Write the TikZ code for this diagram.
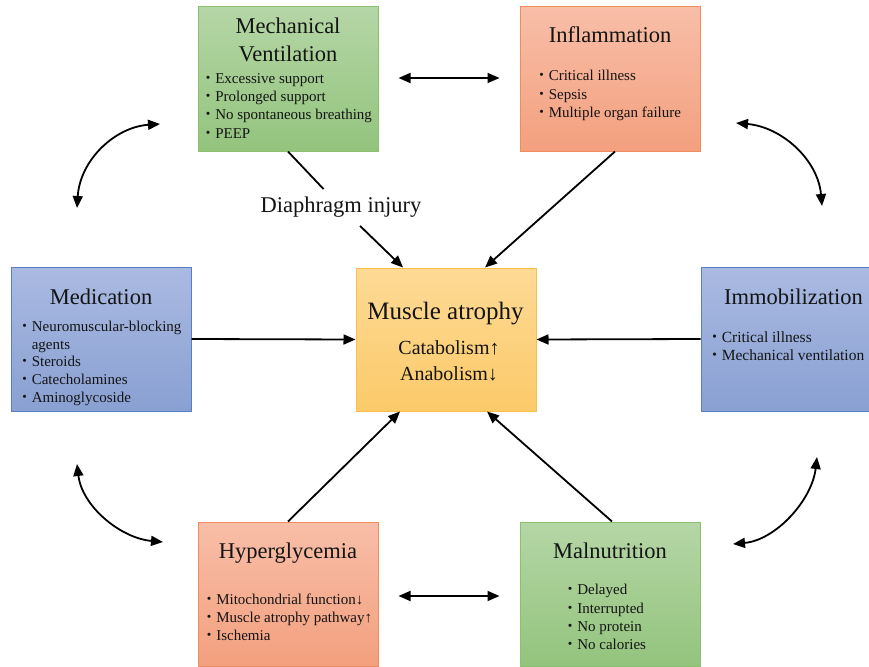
\documentclass[tikz,border=0pt]{standalone}
\usepackage{fontspec}
\setmainfont{Liberation Serif}
\newfontfamily\cjkfont{Noto Sans CJK JP}
\usetikzlibrary{arrows.meta,calc}
\definecolor{gTop}{HTML}{B5D6A6}\definecolor{gBot}{HTML}{93C47D}\definecolor{gLine}{HTML}{8CBF6E}
\definecolor{oTop}{HTML}{F8BEA8}\definecolor{oBot}{HTML}{F3A07E}\definecolor{oLine}{HTML}{EE8C5E}
\definecolor{yTop}{HTML}{FEDA96}\definecolor{yBot}{HTML}{FBCA69}\definecolor{yLine}{HTML}{F8C04A}
\definecolor{bTop}{HTML}{AABAE2}\definecolor{bBot}{HTML}{89A0D2}\definecolor{bLine}{HTML}{5A7CC2}
\newcommand\bul{\makebox[14.6pt][c]{\cjkfont ・}}
\tikzset{
  box/.style={draw, line width=1pt, minimum width=180pt, minimum height=144pt, inner sep=0pt},
  greenbox/.style={box, draw=gLine, top color=gTop, bottom color=gBot},
  orangebox/.style={box, draw=oLine, top color=oTop, bottom color=oBot},
  yellowbox/.style={box, draw=yLine, top color=yTop, bottom color=yBot, minimum height=143pt},
  bluebox/.style={box, draw=bLine, top color=bTop, bottom color=bBot},
  title/.style={font=\fontsize{22.5}{27}\selectfont, inner sep=0pt, anchor=base, text=black!92},
  item/.style={font=\fontsize{15}{18}\selectfont, inner sep=0pt, anchor=base west, text=black!92},
  conn/.style={line width=1.8pt, black},
  arr/.style={conn, -{Triangle[length=12pt,width=10pt]}},
  dbl/.style={conn, {Triangle[length=12pt,width=10pt]}-{Triangle[length=12pt,width=10pt]}}
}
\begin{document}
\begin{tikzpicture}[x=1pt,y=-1pt]
\useasboundingbox (0,0) rectangle (869,666);
\fill[white] (0,0) rectangle (869,666);
\clip (0,0) rectangle (869,666);
% boxes
\node[greenbox] (mv) at (288,79) {};
\node[orangebox] (inf) at (610,79) {};
\node[yellowbox] (ma) at (446,339.5) {};
\node[bluebox] (med) at (101,339) {};
\node[bluebox, minimum width=200pt] (imm) at (801,339) {};
\node[orangebox] (hy) at (288,594) {};
\node[greenbox] (ml) at (610,594) {};
% Mechanical ventilation
\node[title] (mvt1) at (288,34) {Mechanical};
\node[title] (mvt2) at (288,61.5) {Ventilation};
\node[item] (mv1) at (200.5,84) {\bul Excessive support};
\node[item] (mv2) at (200.5,102) {\bul Prolonged support};
\node[item] (mv3) at (200.5,120) {\bul No spontaneous breathing};
\node[item] (mv4) at (200.5,138) {\bul PEEP};
% Inflammation
\node[title] (inft) at (610,43) {Inflammation};
\node[item] (inf1) at (534,80.7) {\bul Critical illness};
\node[item] (inf2) at (534,99.3) {\bul Sepsis};
\node[item] (inf3) at (534,117.7) {\bul Multiple organ failure};
% Muscle atrophy
\node[title, font=\fontsize{25}{30}\selectfont] (mat) at (445.5,319) {Muscle atrophy};
\node[title, font=\fontsize{20}{24}\selectfont] (ma1) at (449,354) {Catabolism↑};
\node[title, font=\fontsize{20}{24}\selectfont] (ma2) at (449,380.6) {Anabolism↓};
% Medication
\node[title] (medt) at (101,304) {Medication};
\node[item] (med1) at (17,331) {\bul Neuromuscular-blocking};
\node[item] (med2) at (17,349.3) {\hspace*{14.6pt}agents};
\node[item] (med3) at (17,366.7) {\bul Steroids};
\node[item] (med4) at (17,384.3) {\bul Catecholamines};
\node[item] (med5) at (17,402.7) {\bul Aminoglycoside};
% Immobilization
\node[title, anchor=base west] (immt) at (724,304) {Immobilization};
\node[item, font=\fontsize{15.5}{18.5}\selectfont] (imm1) at (707,342) {\bul Critical illness};
\node[item, font=\fontsize{15.5}{18.5}\selectfont] (imm2) at (707,360) {\bul Mechanical ventilation};
% Hyperglycemia
\node[title] (hyt) at (288,558.7) {Hyperglycemia};
\node[item] (hy1) at (201.5,604) {\bul Mitochondrial function↓};
\node[item] (hy2) at (201.5,622.3) {\bul Muscle atrophy pathway↑};
\node[item] (hy3) at (201.5,640.3) {\bul Ischemia};
% Malnutrition
\node[title] (mlt) at (610,558.7) {Malnutrition};
\node[item] (ml1) at (562.5,594.7) {\bul Delayed};
\node[item] (ml2) at (562.5,613) {\bul Interrupted};
\node[item] (ml3) at (562.5,631.3) {\bul No protein};
\node[item] (ml4) at (562.5,649.7) {\bul No calories};
% diaphragm label
\node[font=\fontsize{22.5}{27}\selectfont, inner sep=8pt, text=black!92] (di) at (341,207.5) {Diaphragm injury};
% straight connectors
\draw[conn] (mv.south) -- (di);
\draw[arr] (di) -- ($(ma.north)+(-43,0)$);
\draw[arr] ($(inf.south)+(5,0)$) -- ($(ma.north)+(39,0)$);
\draw[arr] (med.east) -- (ma.west);
\draw[arr] (imm.west) -- (ma.east);
\draw[arr] (hy.north) -- ($(ma.south)+(-46,0)$);
\draw[arr] ($(ml.north)+(2,0)$) -- ($(ma.south)+(41,0)$);
\draw[dbl, shorten <=20pt, shorten >=20pt] ($(mv.east)+(0,-1)$) -- ($(inf.west)+(0,-1)$);
\draw[dbl, shorten <=20pt, shorten >=20pt] ($(hy.east)+(0,2)$) -- ($(ml.west)+(0,2)$);
% curved connectors
\coordinate (tla) at (77,208);
\coordinate (tlb) at (160,124);
\coordinate (tra) at (736,123);
\coordinate (trb) at (822,206);
\coordinate (bla) at (77,464);
\coordinate (blb) at (163,542);
\coordinate (bra) at (817,457);
\coordinate (brb) at (733,544);
\draw[dbl] (tla) .. controls (80,160) and (115,127) .. (tlb);
\draw[dbl] (tra) .. controls (782,127) and (818,160) .. (trb);
\draw[dbl] (bla) .. controls (82,506) and (120,538) .. (blb);
\draw[dbl] (bra) .. controls (812,500) and (776,540) .. (brb);
\end{tikzpicture}
\end{document}
